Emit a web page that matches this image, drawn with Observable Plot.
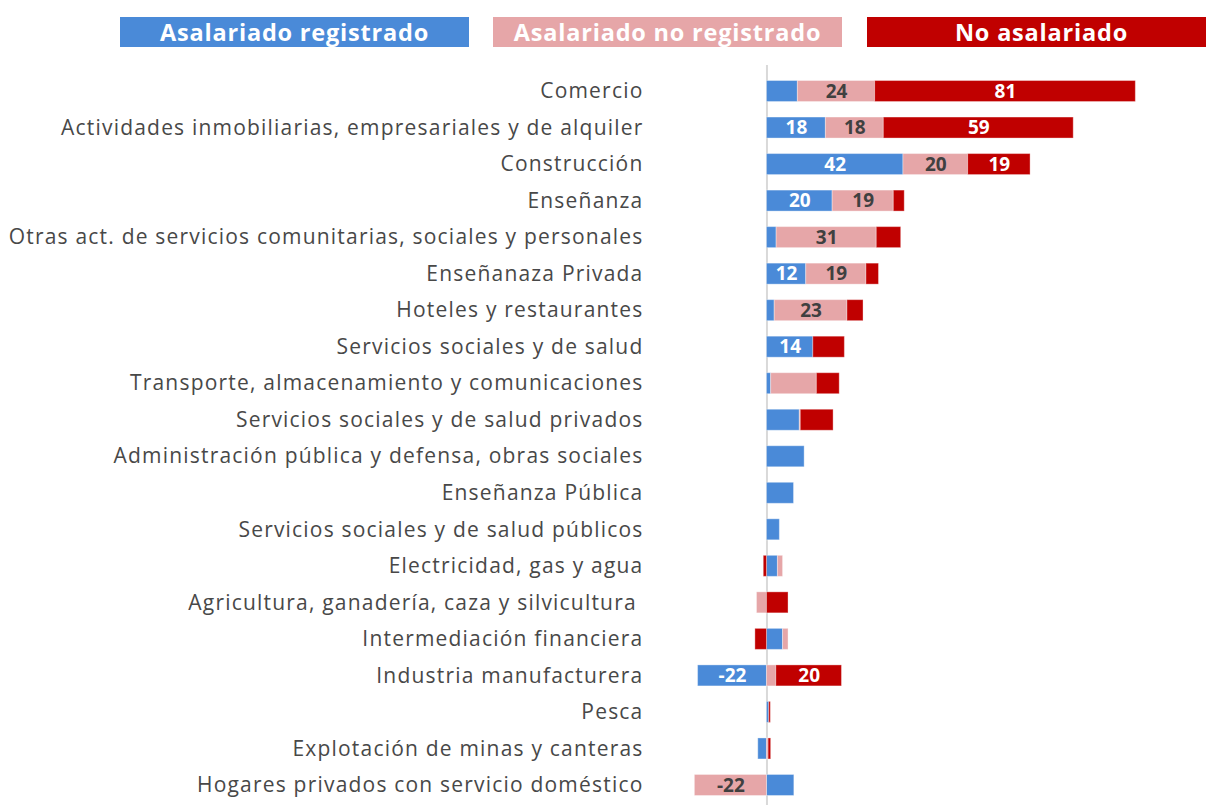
<!DOCTYPE html>
<html><head><meta charset="utf-8">
<script src="https://cdn.jsdelivr.net/npm/d3@7"></script>
<script src="https://cdn.jsdelivr.net/npm/@observablehq/plot@0.6"></script>
<style>
html,body{margin:0;padding:0;background:#fff;overflow:hidden;width:1206px;height:805px;}
#legend{position:relative;height:62px;width:1206px;overflow:hidden;}
.lg{position:absolute;top:17px;height:30px;width:349px;color:#fff;font-family:"Open Sans",sans-serif;font-weight:700;font-size:23.5px;letter-spacing:0.8px;line-height:30px;text-align:center;white-space:nowrap;}
g[aria-label="y-axis tick label"] text{letter-spacing:1.2px;}
</style></head>
<body>
<div id="legend"></div>
<div id="chart"></div>
<script>
const categories = [
  "Comercio",
  "Actividades inmobiliarias, empresariales y de alquiler",
  "Construcción",
  "Enseñanza",
  "Otras act. de servicios comunitarias, sociales y personales",
  "Enseñanaza Privada",
  "Hoteles y restaurantes",
  "Servicios sociales y de salud",
  "Transporte, almacenamiento y comunicaciones",
  "Servicios sociales y de salud privados",
  "Administración pública y defensa, obras sociales",
  "Enseñanza Pública",
  "Servicios sociales y de salud públicos",
  "Electricidad, gas y agua",
  "Agricultura, ganadería, caza y silvicultura\u00a0",
  "Intermediación financiera",
  "Industria manufacturera",
  "Pesca",
  "Explotación de minas y canteras",
  "Hogares privados con servicio doméstico"
];
const seriesNames = ["Asalariado registrado", "Asalariado no registrado", "No asalariado"];
const seriesColors = ["#4a8ad8", "#e6a6a8", "#c00000"];

const registrado   = [9.6, 18.3, 42.4, 20.4, 3.0, 12.2, 2.4, 14.4, 1.3, 10.2, 11.7, 8.4, 4.0, 3.4, 0, 5.0, -21.4, 0.7, -2.7, 8.5];
const noRegistrado = [24, 18.0, 20.1, 19.0, 31.1, 18.7, 22.6, 0, 14.2, 0.3, 0, 0, 0, 1.6, -3.1, 1.7, 2.9, 0, 0.5, -22.4];
const noAsalariado = [81, 59.0, 19.4, 3.4, 7.6, 3.9, 5.0, 9.8, 7.1, 10.2, 0, 0, 0, -1.0, 6.7, -3.6, 20.4, 0.5, 0.8, 0];

const labRegistrado   = [null, 18, 42, 20, null, 12, null, 14, null, null, null, null, null, null, null, null, -22, null, null, null];
const labNoRegistrado = [24, 18, 20, 19, 31, 19, 23, null, null, null, null, null, null, null, null, null, null, null, null, -22];
const labNoAsalariado = [81, 59, 19, null, null, null, null, null, null, null, null, null, null, null, null, null, 20, null, null, null];

const seriesValues = [registrado, noRegistrado, noAsalariado];
const seriesLabels = [labRegistrado, labNoRegistrado, labNoAsalariado];

const data = [];
categories.forEach((c, i) => {
  seriesNames.forEach((s, k) => {
    data.push({cat: c, series: s, k, value: seriesValues[k][i], label: seriesLabels[k][i]});
  });
});

// legend
const lg = document.getElementById("legend");
const lgLeft = [120, 493, 867];
seriesNames.forEach((s, k) => {
  const d = document.createElement("div");
  d.className = "lg";
  d.style.left = lgLeft[k] + "px";
  d.style.background = seriesColors[k];
  d.textContent = s;
  lg.appendChild(d);
});

const stackOpts = {x: "value", y: "cat", z: "series", order: null};

const chart = Plot.plot({
  width: 1206,
  height: 749,
  marginLeft: 686,
  marginRight: 5,
  marginTop: 3,
  marginBottom: 0,
  style: {fontFamily: "Open Sans, sans-serif", background: "#fff"},
  x: {domain: [-25, 135], axis: null},
  y: {domain: categories, paddingInner: 0.425, paddingOuter: 0.425, round: false, label: null},
  color: {domain: seriesNames, range: seriesColors},
  marks: [
    Plot.axisY({tickSize: 0, tickPadding: 43, fontSize: 21, fill: "#484848", label: null}),
    Plot.ruleX([0], {stroke: "#d9d9d9", strokeWidth: 2}),
    Plot.barX(data, Plot.stackX({...stackOpts, fill: "series", stroke: "#fff", strokeOpacity: 0.35, strokeWidth: 1})),
    Plot.text(data, Plot.stackX({...stackOpts, text: d => (d.k !== 1 && d.label != null) ? String(d.label) : "", fill: "#ffffff", fontSize: 19, fontWeight: 700})),
    Plot.text(data, Plot.stackX({...stackOpts, text: d => (d.k === 1 && d.label != null) ? String(d.label) : "", fill: "#404040", fontSize: 19, fontWeight: 700}))
  ]
});
document.getElementById("chart").appendChild(chart);
</script>
</body></html>
